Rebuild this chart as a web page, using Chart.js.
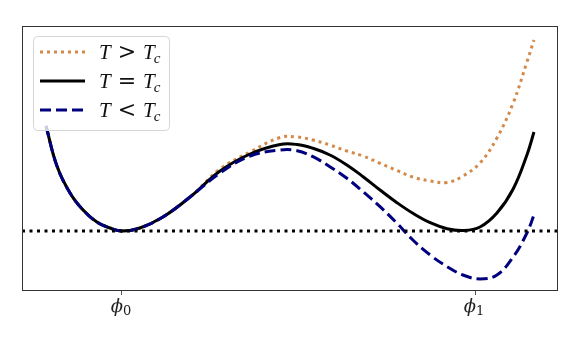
<!DOCTYPE html>
<html>
<head>
<meta charset="utf-8">
<script src="https://cdn.jsdelivr.net/npm/chart.js@4/dist/chart.umd.min.js"></script>
<style>
  html, body { margin: 0; padding: 0; background: #fff; }
</style>
</head>
<body>
<canvas id="potential" width="581" height="349"></canvas>
<script>
// field values (phi0 = 0, phi1 = 1) and potential
const phi = [-0.215, -0.184, -0.147, -0.110, -0.071, -0.034, 0, 0.051, 0.116, 0.193,
  0.278, 0.363, 0.448, 0.496, 0.541, 0.589, 0.637, 0.683, 0.731, 0.779,
  0.824, 0.873, 0.921, 0.966, 1.014, 1.062, 1.108, 1.147, 1.167];

const vAbove = [1.05, 0.65, 0.38, 0.21, 0.09, 0.03, 0, 0.03, 0.14, 0.34,
  0.62, 0.79, 0.935, 0.94, 0.91, 0.86, 0.80, 0.75, 0.677, 0.605,
  0.54, 0.50, 0.485, 0.55, 0.68, 0.93, 1.28, 1.69, 1.91];

const vCritical = [1.05, 0.65, 0.38, 0.21, 0.09, 0.03, 0, 0.03, 0.14, 0.34,
  0.60, 0.77, 0.865, 0.865, 0.827, 0.76, 0.66, 0.543, 0.41, 0.283,
  0.177, 0.083, 0.023, 0.005, 0.04, 0.18, 0.42, 0.76, 0.99];

const vBelow = [1.05, 0.65, 0.38, 0.21, 0.09, 0.03, 0, 0.03, 0.14, 0.34,
  0.58, 0.75, 0.81, 0.803, 0.743, 0.643, 0.527, 0.393, 0.243, 0.077,
  -0.09, -0.24, -0.357, -0.44, -0.48, -0.44, -0.26, -0.02, 0.16];

const baselineV = 0;

const tickValues = [0, 1];
const tickSubscripts = ["0", "1"];

const legendLabels = ["T > T_c", "T = T_c", "T < T_c"];

// ---------------------------------------------------------------

const X_MIN = -0.283, X_MAX = 1.235;
const Y_MIN = -0.6, Y_MAX = 2.05;

const pts = (ys) => phi.map((x, i) => ({ x: x, y: ys[i] }));

const curveStyle = {
  pointRadius: 0,
  borderWidth: 3,
  tension: 0.4,
  fill: false,
  borderCapStyle: "butt",
};

const frameAndLabels = {
  id: "frameAndLabels",
  afterDatasetsDraw(chart) {
    const { ctx, chartArea: a } = chart;
    ctx.save();
    ctx.strokeStyle = "#333";
    ctx.lineWidth = 1;
    ctx.strokeRect(a.left + 0.5, a.top + 0.5, a.right - a.left - 1, a.bottom - a.top - 1);
    ctx.restore();
  },
  afterDraw(chart) {
    const ctx = chart.ctx;
    const xs = chart.scales.x;

    // tick labels: phi with subscript
    ctx.save();
    ctx.fillStyle = "#222";
    ctx.textBaseline = "alphabetic";
    tickValues.forEach((v, i) => {
      const px = xs.getPixelForValue(v);
      ctx.font = "italic 18px 'DejaVu Serif'";
      const w1 = ctx.measureText("\u03D5").width;
      ctx.font = "13px 'DejaVu Serif'";
      const w2 = ctx.measureText(tickSubscripts[i]).width;
      const x0 = px - 1 - (w1 + w2) / 2;
      ctx.font = "italic 18px 'DejaVu Serif'";
      ctx.fillText("\u03D5", x0, 312);
      ctx.font = "13px 'DejaVu Serif'";
      ctx.fillText(tickSubscripts[i], x0 + w1, 315);
    });
    ctx.restore();

    // legend box
    const bx = 33, by = 36, bw = 136, bh = 94;
    ctx.save();
    ctx.beginPath();
    ctx.roundRect(bx + 0.5, by + 0.5, bw, bh, 4);
    ctx.fillStyle = "rgba(255,255,255,0.8)";
    ctx.fill();
    ctx.strokeStyle = "#d6d6d6";
    ctx.lineWidth = 1;
    ctx.stroke();

    const rows = [52, 81, 110];
    const curves = chart.data.datasets.filter((d) => d.label);
    curves.forEach((ds, i) => {
      const y = rows[i];
      ctx.beginPath();
      ctx.setLineDash(ds.borderDash || []);
      ctx.strokeStyle = ds.borderColor;
      ctx.lineWidth = ds.borderWidth;
      ctx.moveTo(40, y);
      ctx.lineTo(85, y);
      ctx.stroke();
      ctx.setLineDash([]);

      const parts = ds.label.split(" ");
      const base = y + 7;
      let x = 99;
      ctx.fillStyle = "#111";
      ctx.font = "italic 21px 'Liberation Serif'";
      ctx.fillText(parts[0], x, base);
      x += ctx.measureText(parts[0]).width + 7;
      ctx.font = "22px 'DejaVu Serif'";
      ctx.fillText(parts[1], x, base);
      x += ctx.measureText(parts[1]).width + 7;
      const [main, sub] = parts[2].split("_");
      ctx.font = "italic 21px 'Liberation Serif'";
      ctx.fillText(main, x, base);
      x += ctx.measureText(main).width;
      ctx.font = "italic 15px 'Liberation Serif'";
      ctx.fillText(sub, x - 1, base + 4);
    });
    ctx.restore();
  },
};

new Chart(document.getElementById("potential"), {
  type: "line",
  data: {
    datasets: [
      {
        data: [{ x: X_MIN, y: baselineV }, { x: X_MAX, y: baselineV }],
        borderColor: "#000",
        borderWidth: 3,
        borderDash: [3, 4.5],
        pointRadius: 0,
        order: 0,
      },
      {
        label: legendLabels[0],
        data: pts(vAbove),
        borderColor: "#d2894a",
        borderDash: [3, 4],
        order: 3,
        ...curveStyle,
      },
      {
        label: legendLabels[1],
        data: pts(vCritical),
        borderColor: "#000",
        order: 2,
        ...curveStyle,
      },
      {
        label: legendLabels[2],
        data: pts(vBelow),
        borderColor: "#00007f",
        borderDash: [11, 5],
        order: 1,
        ...curveStyle,
      },
    ],
  },
  options: {
    responsive: false,
    animation: false,
    devicePixelRatio: 1,
    layout: { padding: { left: 22, right: 23, top: 26, bottom: 0 } },
    plugins: {
      legend: { display: false },
      tooltip: { enabled: false },
    },
    scales: {
      x: {
        type: "linear",
        min: X_MIN,
        max: X_MAX,
        afterBuildTicks: (s) => {
          s.ticks = tickValues.map((v) => ({ value: v }));
        },
        afterFit: (s) => {
          s.height = 58;
        },
        ticks: { autoSkip: false, callback: () => "", padding: 0 },
        grid: {
          display: true,
          drawOnChartArea: false,
          drawTicks: true,
          tickLength: 4,
          color: "#555",
        },
        border: { display: false },
      },
      y: {
        display: false,
        min: Y_MIN,
        max: Y_MAX,
      },
    },
  },
  plugins: [frameAndLabels],
});
</script>
</body>
</html>
